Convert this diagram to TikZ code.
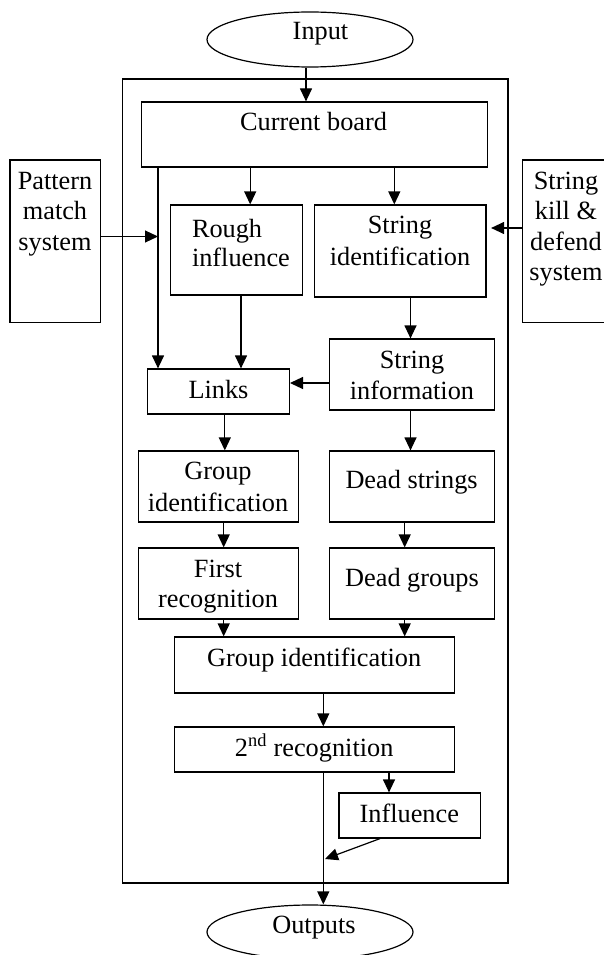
\documentclass[tikz,border=0pt]{standalone}
\usepackage{fontspec}
\setmainfont{Liberation Serif}
\usetikzlibrary{arrows.meta,shapes.geometric}
\begin{document}
\begin{tikzpicture}[x=1pt,y=-1pt,line width=1.2pt,
  box/.style={draw,rectangle,inner sep=0pt,line width=1.2pt},
  oval/.style={draw,ellipse,inner sep=0pt,line width=1.2pt},
  txt/.style={inner sep=0pt,anchor=base,font=\fontsize{26.3}{30}\selectfont},
  ltxt/.style={txt,anchor=base west},
  arr/.style={-{Triangle[length=13pt,width=12pt]},line width=1.2pt}]
\useasboundingbox (0,0) rectangle (603,955);

% frame and ellipses
\node[box,minimum width=385.5pt,minimum height=804pt] (frame) at (315.25,481) {};
\node[oval,minimum width=206pt,minimum height=55pt] (input) at (310,39.5) {};
\node[oval,minimum width=206pt,minimum height=54pt] (outputs) at (310,932) {};

% boxes
\node[box,minimum width=345.6pt,minimum height=65pt] (cb) at (314.5,134.5) {};
\node[box,minimum width=90.7pt,minimum height=162.7pt] (pat) at (55.35,241.35) {};
\node[box,minimum width=117.7pt,minimum height=162.7pt] (skd) at (581.15,241.35) {};
\node[box,minimum width=131.5pt,minimum height=90pt] (rough) at (236.35,250) {};
\node[box,minimum width=171.2pt,minimum height=92pt] (sid) at (400.4,251) {};
\node[box,minimum width=141.8pt,minimum height=45pt] (links) at (218.5,391.5) {};
\node[box,minimum width=164.8pt,minimum height=71pt] (sinfo) at (412.2,374.5) {};
\node[box,minimum width=160.2pt,minimum height=71pt] (gid) at (218.5,486.5) {};
\node[box,minimum width=164.8pt,minimum height=71pt] (dstr) at (412.2,486.5) {};
\node[box,minimum width=160.2pt,minimum height=71pt] (frec) at (218.5,583.5) {};
\node[box,minimum width=164.8pt,minimum height=71pt] (dgrp) at (412.2,583.5) {};
\node[box,minimum width=280.2pt,minimum height=56pt] (gid2) at (314.2,665) {};
\node[box,minimum width=280.2pt,minimum height=45pt] (rec2) at (314.2,749.5) {};
\node[box,minimum width=141.8pt,minimum height=45pt] (infl) at (409.9,815.5) {};

% texts
\node[txt] (tin) at (320.5,40) {Input};
\node[txt] (tout) at (314,933) {Outputs};
\node[txt] (tcb) at (313.6,131) {Current board};
\node[txt] (tpat1) at (55,189) {Pattern};
\node[txt] (tpat2) at (55,219.5) {match};
\node[txt] (tpat3) at (55,250) {system};
\node[txt] (tskd1) at (566,189) {String};
\node[txt] (tskd2) at (566,219.5) {kill \&};
\node[txt] (tskd3) at (566,250) {defend};
\node[txt] (tskd4) at (566,280.5) {system};
\node[ltxt] (tro1) at (191.4,237) {Rough};
\node[ltxt] (tro2) at (191.4,266) {influence};
\node[txt] (tsid1) at (400,233) {String};
\node[txt] (tsid2) at (400,265) {identification};
\node[txt] (tlk) at (218.5,398) {Links};
\node[txt] (tsi1) at (412,368) {String};
\node[txt] (tsi2) at (412,399) {information};
\node[txt] (tgid1) at (218,479) {Group};
\node[txt] (tgid2) at (218,511) {identification};
\node[txt] (tds) at (411.6,488) {Dead strings};
\node[txt] (tfr1) at (218,577) {First};
\node[txt] (tfr2) at (218,607) {recognition};
\node[txt] (tdg) at (412,586) {Dead groups};
\node[txt] (tgid3) at (314.2,666) {Group identification};
\node[txt] (trec) at (314.2,756) {2\textsuperscript{nd} recognition};
\node[txt] (tinf) at (409.3,822) {Influence};

% x / y guide coordinates
\coordinate (xin) at (306,0);
\coordinate (xro) at (250.2,0);
\coordinate (xsi) at (394.3,0);
\coordinate (xlk) at (158,0);
\coordinate (xrl) at (241,0);
\coordinate (xsn) at (410.5,0);
\coordinate (xlg) at (224.8,0);
\coordinate (xgf) at (223.7,0);
\coordinate (xdd) at (404.7,0);
\coordinate (xmid) at (323.3,0);
\coordinate (xinf) at (389,0);
\coordinate (xdg) at (380,0);
\coordinate (yskd) at (0,228);
\coordinate (ysi) at (0,383);
\coordinate (pj) at (158,236.5);
\coordinate (jn) at (325,859);

% connectors
\draw[arr] (xin |- input.south) -- (xin |- cb.north);
\draw[arr] (xro |- cb.south) -- (xro |- rough.north);
\draw[arr] (xsi |- cb.south) -- (xsi |- sid.north);
\draw[arr] (xlk |- cb.south) -- (xlk |- links.north);
\draw[arr] (pat.east |- pj) -- (pj);
\draw[arr,shorten >=4.5pt] (skd.west |- yskd) -- (sid.east |- yskd);
\draw[arr] (xrl |- rough.south) -- (xrl |- links.north);
\draw[arr] (xsn |- sid.south) -- (xsn |- sinfo.north);
\draw[arr] (sinfo.west |- ysi) -- (links.east |- ysi);
\draw[arr] (xlg |- links.south) -- (xlg |- gid.north);
\draw[arr] (xsn |- sinfo.south) -- (xsn |- dstr.north);
\draw[arr] (xgf |- gid.south) -- (xgf |- frec.north);
\draw[arr] (xdd |- dstr.south) -- (xdd |- dgrp.north);
\draw[arr] (xgf |- frec.south) -- (xgf |- gid2.north);
\draw[arr] (xdd |- dgrp.south) -- (xdd |- gid2.north);
\draw[arr] (xmid |- gid2.south) -- (xmid |- rec2.north);
\draw[arr] (xinf |- rec2.south) -- (xinf |- infl.north);
\draw[arr] (xmid |- rec2.south) -- (xmid |- outputs.north);
\draw[arr] (xdg |- infl.south) -- (jn);
\end{tikzpicture}
\end{document}
